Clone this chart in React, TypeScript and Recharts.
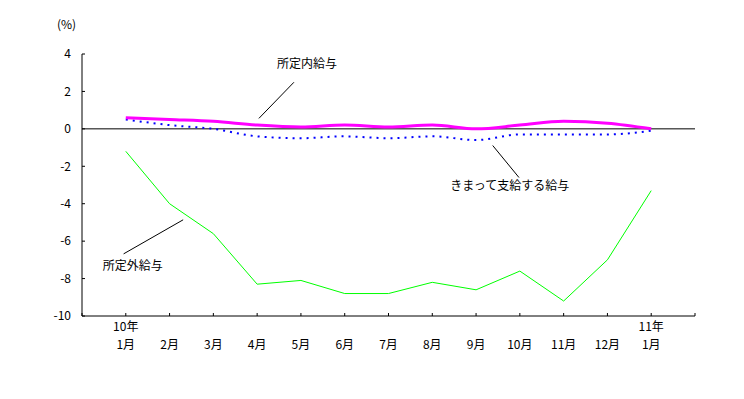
import React from "react";
import {
  LineChart,
  Line,
  XAxis,
  YAxis,
  ReferenceLine,
  ReferenceDot,
} from "recharts";

// Month labels (two-line for year starts)
const years = ["10年", "", "", "", "", "", "", "", "", "", "", "", "11年"];
const months = ["1月", "2月", "3月", "4月", "5月", "6月", "7月", "8月", "9月", "10月", "11月", "12月", "1月"];

// 前年同月比 (%)
const shoteinai = [0.6, 0.5, 0.4, 0.2, 0.1, 0.2, 0.1, 0.2, 0.0, 0.2, 0.4, 0.3, 0.0];
const kimatte = [0.5, 0.2, 0.0, -0.4, -0.5, -0.4, -0.5, -0.4, -0.6, -0.3, -0.3, -0.3, -0.1];
const shoteigai = [-1.2, -4.0, -5.6, -8.3, -8.1, -8.8, -8.8, -8.2, -8.6, -7.6, -9.2, -7.0, -3.3];

const yTicks = [-10, -8, -6, -4, -2, 0, 2, 4];
const xTicks = [0, 1, 2, 3, 4, 5, 6, 7, 8, 9, 10, 11, 12, 13, 14];

const FONT = "'Noto Sans CJK JP', 'Noto Sans', sans-serif";

const data = months.map((m, i) => ({
  i: i + 1,
  shoteinai: shoteinai[i],
  kimatte: kimatte[i],
  shoteigai: shoteigai[i],
}));

function MonthTick(props: any) {
  const { x, y, payload } = props;
  const idx = payload.value - 1;
  if (idx < 0 || idx >= months.length) return null;
  return (
    <g fontFamily={FONT} fontSize={12} fill="#000">
      {years[idx] && (
        <text x={x} y={y + 15} textAnchor="middle">
          {years[idx]}
        </text>
      )}
      <text x={x} y={y + 33} textAnchor="middle">
        {months[idx]}
      </text>
    </g>
  );
}

const labelStyle = { fill: "#000", fontSize: 12, fontFamily: FONT };

export default function App() {
  return (
    <div style={{ position: "absolute", left: 0, top: 0, width: 744, height: 399, background: "#fff" }}>
      <div
        style={{
          position: "absolute",
          left: 57,
          top: 15,
          fontSize: 12,
          fontFamily: FONT,
          color: "#000",
        }}
      >
        (%)
      </div>
      <LineChart
        width={744}
        height={399}
        data={data}
        margin={{ top: 54, right: 49, left: 0, bottom: 43 }}
      >
        <XAxis
          dataKey="i"
          type="number"
          domain={[0, 14]}
          ticks={xTicks}
          interval={0}
          height={40}
          axisLine={{ stroke: "#000" }}
          tickLine={{ stroke: "#000" }}
          tickSize={-3}
          tickMargin={3}
          tick={<MonthTick />}
        />
        <YAxis
          type="number"
          domain={[-10, 4]}
          ticks={yTicks}
          interval={0}
          width={82}
          axisLine={{ stroke: "#000" }}
          tickLine={{ stroke: "#000" }}
          tickSize={-3}
          tickMargin={14}
          tick={{ fill: "#000", fontSize: 12, fontFamily: FONT }}
        />
        <ReferenceLine y={0} stroke="#000" strokeWidth={1} />

        <Line
          type="linear"
          dataKey="shoteigai"
          stroke="#00ff00"
          strokeWidth={1}
          dot={false}
          isAnimationActive={false}
        />
        <Line
          type="monotone"
          dataKey="kimatte"
          stroke="#0000ff"
          strokeWidth={2}
          strokeDasharray="2 5"
          dot={false}
          isAnimationActive={false}
        />
        <Line
          type="monotone"
          dataKey="shoteinai"
          stroke="#ff00ff"
          strokeWidth={3}
          dot={false}
          isAnimationActive={false}
        />

        {/* leader lines + labels */}
        <ReferenceLine
          segment={[{ x: 4.04, y: 0.56 }, { x: 4.84, y: 2.49 }]}
          stroke="#000"
          ifOverflow="visible"
        />
        <ReferenceDot x={5.14} y={3.46} r={0} stroke="none" fill="none" label={{ value: "所定内給与", position: "center", ...labelStyle }} />
        <ReferenceLine
          segment={[{ x: 9.38, y: -0.89 }, { x: 9.98, y: -2.6 }]}
          stroke="#000"
          ifOverflow="visible"
        />
        <ReferenceDot x={9.77} y={-3.03} r={0} stroke="none" fill="none" label={{ value: "きまって支給する給与", position: "center", ...labelStyle }} />
        <ReferenceLine
          segment={[{ x: 2.31, y: -4.86 }, { x: 0.95, y: -6.68 }]}
          stroke="#000"
          ifOverflow="visible"
        />
        <ReferenceDot x={1.16} y={-7.32} r={0} stroke="none" fill="none" label={{ value: "所定外給与", position: "center", ...labelStyle }} />
      </LineChart>
    </div>
  );
}
